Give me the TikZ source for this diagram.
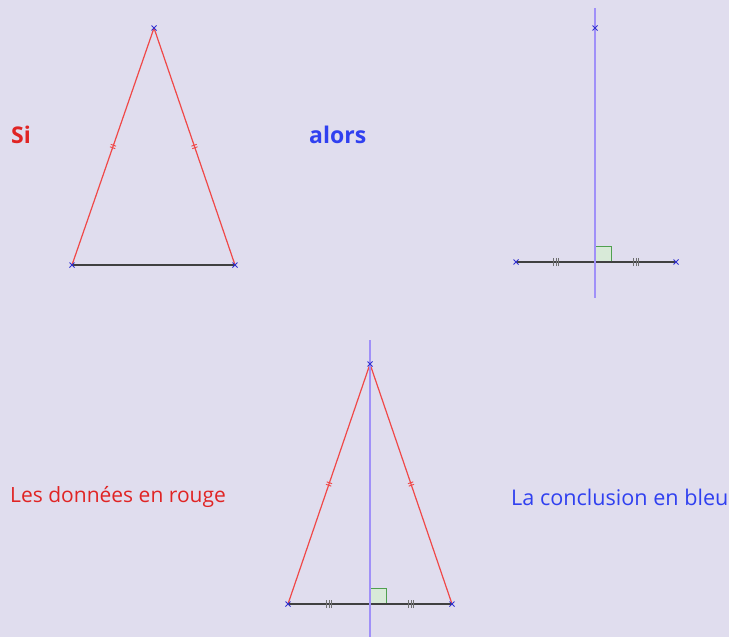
\documentclass[tikz,border=0pt]{standalone}
\usepackage{fontspec}
\setmainfont{Open Sans}
\usetikzlibrary{decorations.markings,calc}
\definecolor{bg}{HTML}{E0DDEE}
\definecolor{redline}{HTML}{F04848}
\definecolor{redtext}{HTML}{E02424}
\definecolor{bluetext}{HTML}{3040F0}
\definecolor{medline}{HTML}{A090F8}
\definecolor{crossblue}{HTML}{3030D0}
\definecolor{basegray}{HTML}{404040}
\definecolor{tickgray}{HTML}{707070}
\definecolor{sqfill}{HTML}{D8EAD8}
\definecolor{sqdraw}{HTML}{50A050}
\tikzset{
  redside/.style={draw=redline, line width=1.2pt,
    postaction={decorate, decoration={markings, mark=at position 0.5 with {
      \draw[redline, line width=0.9pt] (-1.3pt,-2.8pt)--(-1.3pt,2.8pt) (1.3pt,-2.8pt)--(1.3pt,2.8pt);}}}},
  baseseg/.style={draw=basegray, line width=1.5pt},
  triple/.style={postaction={decorate, decoration={markings,
      mark=at position #1 with {
      \draw[tickgray, line width=0.9pt] (-2.2pt,-4pt)--(-2.2pt,4pt) (0pt,-4pt)--(0pt,4pt) (2.2pt,-4pt)--(2.2pt,4pt);}}}},
  medline/.style={draw=medline, line width=1.3pt},
  rsquare/.style={draw=sqdraw, fill=sqfill, line width=0.9pt},
  crossmark/.style={draw=crossblue, line width=0.9pt},
  redlabel/.style={text=redtext, font=\fontsize{21}{25}\selectfont, inner sep=0pt, anchor=west},
  bluelabel/.style={text=bluetext, font=\fontsize{21.6}{25}\selectfont, inner sep=0pt, anchor=west},
  boldlabel/.style={font=\fontsize{23}{27}\selectfont\bfseries},
}
\newcommand{\xmark}[1]{\draw[crossmark] ($(#1)+(-2.5,-2.5)$)--($(#1)+(2.5,2.5)$) ($(#1)+(-2.5,2.5)$)--($(#1)+(2.5,-2.5)$);}
\begin{document}
\begin{tikzpicture}[x=1pt,y=-1pt]
\fill[bg] (0,0) rectangle (729,637);
\useasboundingbox (0,0) rectangle (729,637);

% ---- top-left triangle
\coordinate (A) at (154,28);
\coordinate (B) at (72,265);
\coordinate (C) at (235,265);
\draw[baseseg] (B) -- (C);
\path[redside] (A) -- (B);
\path[redside] (A) -- (C);
\xmark{A}\xmark{B}\xmark{C}

\node[redlabel, boldlabel] (si) at (11,135) {Si};
\node[bluelabel, boldlabel] (alors) at (309,135) {alors};

% ---- top-right figure
\coordinate (P) at (595,28);
\coordinate (Q) at (516,262);
\coordinate (R) at (676,262);
\coordinate (H1) at (595,262);
\coordinate (Mt) at (595,8);
\coordinate (Mb) at (595,298);
\draw[rsquare] (H1) rectangle ++(16,-16);
\draw[baseseg, triple=0.25, triple=0.75] (Q) -- (R);
\draw[medline] (Mt) -- (Mb);
\xmark{P}\xmark{Q}\xmark{R}

% ---- bottom figure
\coordinate (D) at (370,364);
\coordinate (E) at (288,604);
\coordinate (F) at (452,604);
\coordinate (H2) at (370,604);
\coordinate (Nt) at (370,340);
\coordinate (Nb) at (370,637);
\draw[rsquare] (H2) rectangle ++(16,-16);
\draw[baseseg, triple=0.25, triple=0.75] (E) -- (F);
\path[redside] (D) -- (E);
\path[redside] (D) -- (F);
\draw[medline] (Nt) -- (Nb);
\xmark{D}\xmark{E}\xmark{F}

\node[redlabel] (donnees) at (10,497) {Les données en rouge};
\node[bluelabel] (concl) at (511,497) {La conclusion en bleu};
\end{tikzpicture}
\end{document}
